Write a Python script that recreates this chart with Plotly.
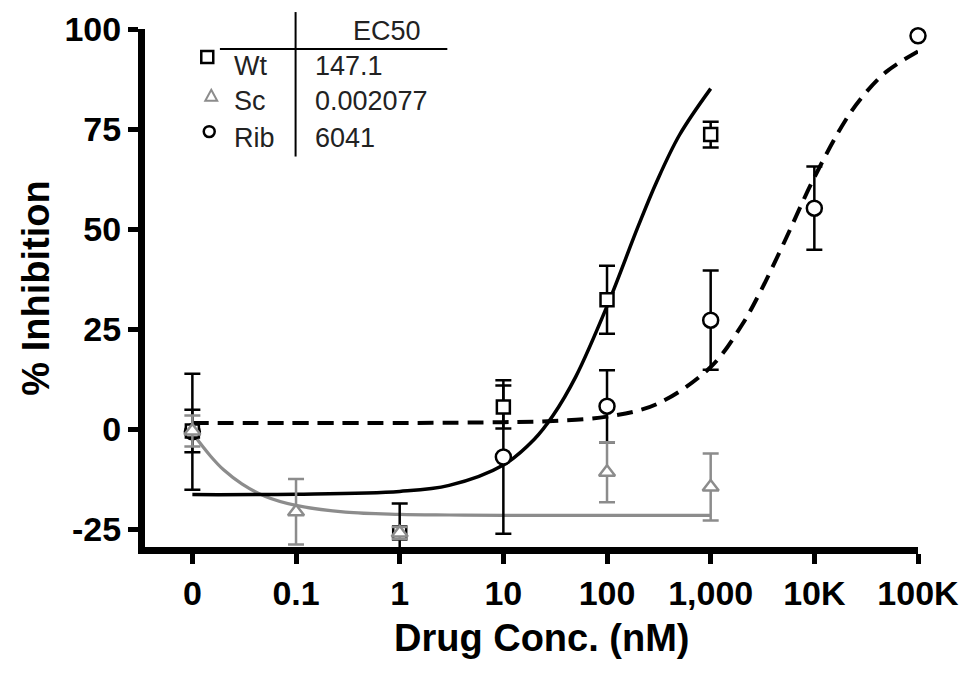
import plotly.graph_objects as go

# x axis: log scale, the "0" dose is drawn in the 0.01 slot
x_tick_vals = [0.01, 0.1, 1, 10, 100, 1000, 1e4, 1e5]
x_tick_text = ["0", "0.1", "1", "10", "100", "1,000", "10K", "100K"]
y_tick_vals = [-25, 0, 25, 50, 75, 100]
y_tick_text = ["-25", "0", "25", "50", "75", "100"]

# measured points (mean +/- error)
wt_conc = [0.01, 1, 10, 100, 1000]
wt_inh = [-0.5, -26.0, 5.5, 32.3, 73.6]
wt_err = [5.3, 7.4, 5.4, 8.5, 3.2]

sc_conc = [0.01, 0.1, 1, 100, 1000]
sc_inh = [-0.5, -20.7, -26.0, -10.8, -14.5]
sc_err = [3.9, 8.2, 1.5, 7.5, 8.4]

rib_conc = [0.01, 10, 100, 1000, 1e4, 1e5]
rib_inh = [-0.7, -7.0, 5.7, 27.2, 55.2, 98.3]
rib_err = [14.5, 19.2, 9.0, 12.4, 10.4, 0]

# fitted curves
wt_fit_x = [0.01, 0.1, 1, 3, 10, 20, 30, 50, 100, 200, 300, 500, 1000]
wt_fit_y = [-16.4, -16.3, -15.6, -14.1, -9.0, -2.5, 3.3, 13.1, 30.7, 50.7, 61.7, 73.5, 85.1]

sc_fit_x = [0.01, 0.015, 0.02, 0.03, 0.05, 0.1, 0.3, 1, 3, 10, 100, 1000]
sc_fit_y = [-1.0, -6.8, -10.2, -13.7, -16.8, -19.1, -20.8, -21.35, -21.5, -21.6, -21.6, -21.6]

rib_fit_x = [0.01, 1, 10, 30, 100, 300, 1000, 2000, 3000, 5000, 1e4, 2e4, 3e4, 5e4, 1e5]
rib_fit_y = [1.5, 1.5, 1.7, 2.0, 3.1, 6.2, 15.5, 26.0, 34.2, 46.1, 62.9, 77.2, 83.5, 89.4, 94.4]

ec50_names = ["Wt", "Sc", "Rib"]
ec50_values = ["147.1", "0.002077", "6041"]

GRAY = '#8c8c8c'
FONT = 'Liberation Sans, Arial, sans-serif'

fig = go.Figure()

# curves
fig.add_trace(go.Scatter(x=sc_fit_x, y=sc_fit_y, mode='lines', line_shape='spline',
                         line=dict(color=GRAY, width=3.2), showlegend=False, hoverinfo='skip'))
fig.add_trace(go.Scatter(x=wt_fit_x, y=wt_fit_y, mode='lines', line_shape='spline',
                         line=dict(color='black', width=3.5), showlegend=False, hoverinfo='skip'))
fig.add_trace(go.Scatter(x=rib_fit_x, y=rib_fit_y, mode='lines', line_shape='spline',
                         line=dict(color='black', width=4, dash='16px,9px'),
                         showlegend=False, hoverinfo='skip'))


def points(x, y, err, symbol, color, size):
    return go.Scatter(
        x=x, y=y, mode='markers', showlegend=False, cliponaxis=False,
        marker=dict(symbol=symbol, size=size, color='white',
                    line=dict(color=color, width=2.5)),
        error_y=dict(type='data', array=err, visible=True, color=color,
                     thickness=2.5, width=8)
    )


fig.add_trace(points(rib_conc, rib_inh, rib_err, 'circle', 'black', 15))
fig.add_trace(points(wt_conc, wt_inh, wt_err, 'square', 'black', 13))
fig.add_trace(points(sc_conc, sc_inh, sc_err, 'triangle-up', GRAY, 14))

# EC50 table in the top-left corner (paper coords)
shapes = [
    dict(type='line', xref='paper', yref='paper', x0=0.1948, x1=0.1948, y0=0.7538, y1=1.0327,
         line=dict(color='black', width=2)),
    dict(type='line', xref='paper', yref='paper', x0=0.0969, x1=0.3911, y0=0.9615, y1=0.9615,
         line=dict(color='black', width=2)),
    dict(type='rect', xref='paper', yref='paper', x0=0.0728, x1=0.0883, y0=0.9346, y1=0.9577,
         line=dict(color='black', width=2.5)),
    dict(type='path', xref='paper', yref='paper',
         path='M 0.0857 0.8827 L 0.0934 0.8615 L 0.0780 0.8615 Z',
         line=dict(color=GRAY, width=2)),
    dict(type='circle', xref='paper', yref='paper', x0=0.0760, x1=0.0902, y0=0.7913, y1=0.8125,
         line=dict(color='black', width=2.5)),
]
annotations = [dict(text='EC50', xref='paper', yref='paper', x=0.3125, y=0.9962,
                    xanchor='center', yanchor='middle', showarrow=False,
                    font=dict(family=FONT, size=27, color='#222'))]
row_y = [0.9290, 0.8615, 0.7900]
for name, val, yy in zip(ec50_names, ec50_values, row_y):
    annotations.append(dict(text=name, xref='paper', yref='paper', x=0.1128, y=yy,
                            xanchor='left', yanchor='middle', showarrow=False,
                            font=dict(family=FONT, size=27, color='#222')))
    annotations.append(dict(text=val, xref='paper', yref='paper', x=0.2171, y=yy,
                            xanchor='left', yanchor='middle', showarrow=False,
                            font=dict(family=FONT, size=27, color='#222')))

# x-axis title, sits a little right of the plot centre in the original
annotations.append(dict(text='Drug Conc. (nM)', xref='paper', yref='paper', x=0.514, y=-0.175,
                        xanchor='center', yanchor='middle', showarrow=False,
                        font=dict(family=FONT, size=38, color='black', weight='bold')))

axis_common = dict(showline=True, linewidth=7, linecolor='black', mirror=False,
                   ticks='outside', ticklen=10, tickwidth=5, tickcolor='black',
                   showgrid=False, zeroline=False, automargin=False,
                   tickfont=dict(family=FONT, size=34, color='black', weight='bold'))

fig.update_layout(
    template='none',
    width=975, height=675,
    margin=dict(l=137, r=65, t=21, b=136),
    paper_bgcolor='white', plot_bgcolor='white',
    shapes=shapes, annotations=annotations,
    xaxis=dict(type='log', range=[-2.457, 5.0], tickvals=x_tick_vals, ticktext=x_tick_text,
               **axis_common),
    yaxis=dict(range=[-29.5, 100], tickvals=y_tick_vals, ticktext=y_tick_text,
               title=dict(text='% Inhibition', standoff=6,
                          font=dict(family=FONT, size=38, color='black', weight='bold')),
               **axis_common),
)

fig.write_html("out.html")
